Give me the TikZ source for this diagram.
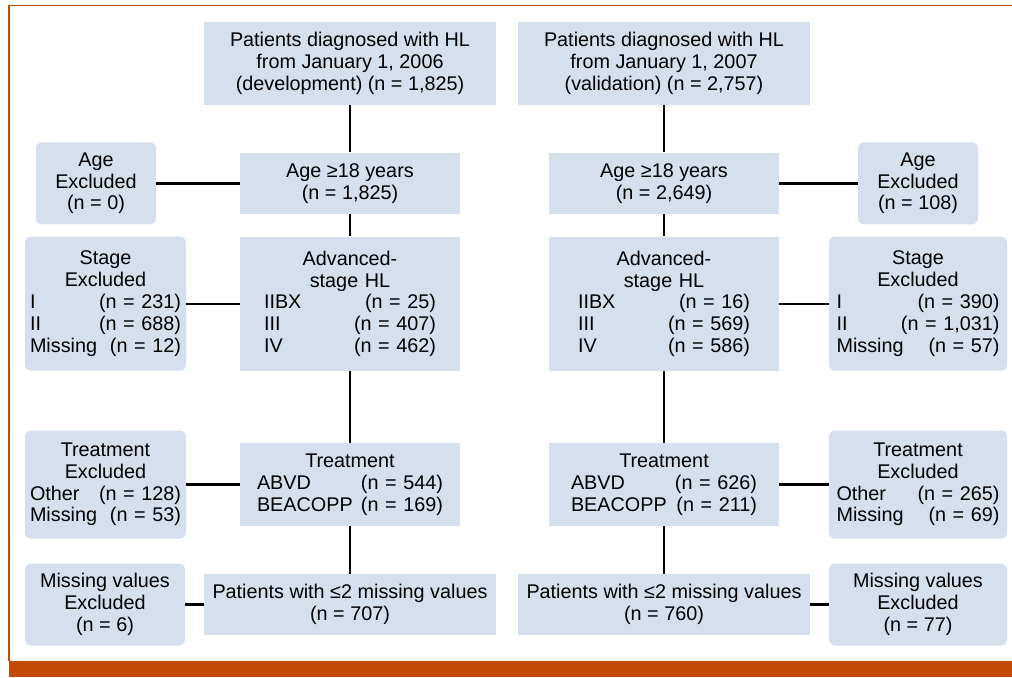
\documentclass[tikz,border=0pt]{standalone}
\usepackage{fontspec}
\setmainfont{Liberation Sans}
\usepackage{tikz}
\usetikzlibrary{positioning}
\usepackage{xcolor}
\definecolor{boxfill}{RGB}{214,223,236}
\definecolor{framebar}{RGB}{193,75,3}
\newcommand{\nrow}[2]{#1\hfill#2}

\begin{document}
\begin{tikzpicture}[x=0.5pt, y=-0.5pt,
    every node/.style={font=\fontsize{9.9}{10.9}\selectfont, inner sep=0pt, align=center},
    box/.style={fill=boxfill},
    exclbox/.style={fill=boxfill, rounded corners=3pt},
    link/.style={line width=1.2pt}]
  \useasboundingbox (0,0) rectangle (1012,677);
  % frame
  \draw[framebar, line width=0.8pt] (9,661) -- (9,5.5) -- (1012,5.5);
  \fill[framebar] (9,661) rectangle (1012,677);

  % development cohort
  \node[box, minimum width=146pt, minimum height=41.5pt] (DevStart) at (350,63.5)
    {Patients diagnosed with HL\\from January 1, 2006\\(development) (n = 1,825)};
  \node[box, minimum width=110pt, minimum height=30.5pt] (DevAge) at (350,183.3)
    {Age ≥18 years\\(n = 1,825)};
  \node[box, minimum width=110pt, minimum height=67pt, text width=86pt] (DevStage) at (350,303.7)
    {Advanced-\\stage HL\\
     \nrow{IIBX}{(n = 25)}\\
     \nrow{III}{(n = 407)}\\
     \nrow{IV}{(n = 462)}};
  \node[box, minimum width=110pt, minimum height=41.5pt, text width=93pt] (DevTreat) at (350,484.5)
    {Treatment\\
     \nrow{ABVD}{(n = 544)}\\
     \nrow{BEACOPP}{(n = 169)}};
  \node[box, minimum width=146pt, minimum height=30.5pt] (DevFinal) at (350,604.5)
    {Patients with ≤2 missing values\\(n = 707)};

  \node[exclbox, minimum width=60pt, minimum height=41pt] (DevAgeExcl) at (96,183.3)
    {Age\\Excluded\\(n = 0)};
  \node[exclbox, minimum width=80.5pt, minimum height=67pt, text width=75.5pt] (DevStageExcl) at (105.5,303.7)
    {Stage\\Excluded\\
     \nrow{I}{(n = 231)}\\
     \nrow{II}{(n = 688)}\\
     \nrow{Missing}{(n = 12)}};
  \node[exclbox, minimum width=80.5pt, minimum height=54pt, text width=75.5pt] (DevTreatExcl) at (105.5,484.5)
    {Treatment\\Excluded\\
     \nrow{Other}{(n = 128)}\\
     \nrow{Missing}{(n = 53)}};
  \node[exclbox, minimum width=80pt, minimum height=41pt] (DevMissExcl) at (105,604.5)
    {Missing values\\Excluded\\(n = 6)};

  % validation cohort
  \node[box, minimum width=146pt, minimum height=41.5pt] (ValStart) at (664,63.5)
    {Patients diagnosed with HL\\from January 1, 2007\\(validation) (n = 2,757)};
  \node[box, minimum width=115pt, minimum height=30.5pt] (ValAge) at (664,183.3)
    {Age ≥18 years\\(n = 2,649)};
  \node[box, minimum width=115pt, minimum height=67pt, text width=86pt] (ValStage) at (664,303.7)
    {Advanced-\\stage HL\\
     \nrow{IIBX}{(n = 16)}\\
     \nrow{III}{(n = 569)}\\
     \nrow{IV}{(n = 586)}};
  \node[box, minimum width=115pt, minimum height=41.5pt, text width=93pt] (ValTreat) at (664,484.5)
    {Treatment\\
     \nrow{ABVD}{(n = 626)}\\
     \nrow{BEACOPP}{(n = 211)}};
  \node[box, minimum width=146pt, minimum height=30.5pt] (ValFinal) at (664,604.5)
    {Patients with ≤2 missing values\\(n = 760)};

  \node[exclbox, minimum width=60pt, minimum height=41pt] (ValAgeExcl) at (918,183.3)
    {Age\\Excluded\\(n = 108)};
  \node[exclbox, minimum width=89pt, minimum height=67pt, text width=81.5pt] (ValStageExcl) at (918,303.7)
    {Stage\\Excluded\\
     \nrow{I}{(n = 390)}\\
     \nrow{II}{(n = 1,031)}\\
     \nrow{Missing}{(n = 57)}};
  \node[exclbox, minimum width=89pt, minimum height=54pt, text width=81.5pt] (ValTreatExcl) at (918,484.5)
    {Treatment\\Excluded\\
     \nrow{Other}{(n = 265)}\\
     \nrow{Missing}{(n = 69)}};
  \node[exclbox, minimum width=89pt, minimum height=41pt] (ValMissExcl) at (918,604.5)
    {Missing values\\Excluded\\(n = 77)};

  % connectors
  \foreach \pre in {Dev, Val} {
    \draw[link] (\pre Start) -- (\pre Age);
    \draw[link] (\pre Age) -- (\pre Stage);
    \draw[link] (\pre Stage) -- (\pre Treat);
    \draw[link] (\pre Treat) -- (\pre Final);
    \draw[link] (\pre AgeExcl) -- (\pre Age);
    \draw[link] (\pre StageExcl) -- (\pre Stage);
    \draw[link] (\pre TreatExcl) -- (\pre Treat);
    \draw[link] (\pre MissExcl) -- (\pre Final);
  }
\end{tikzpicture}
\end{document}
